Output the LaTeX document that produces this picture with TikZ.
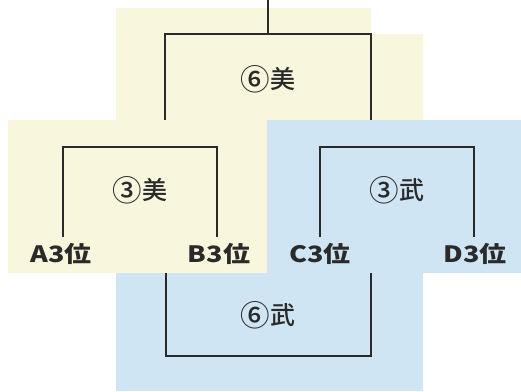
\documentclass[tikz,border=0pt]{standalone}
\usepackage{fontspec}
\newfontfamily\cjk{Noto Sans CJK JP Medium}
\newfontfamily\cjkb{Noto Sans CJK JP Black}
\definecolor{cream}{HTML}{F8F6DC}
\definecolor{skyb}{HTML}{D0E5F4}
\definecolor{ink}{HTML}{2A2A2A}
\newcommand{\cnum}[1]{\raisebox{-0.06em}{\scalebox{1.18}{#1}}}
\begin{document}
\begin{tikzpicture}[x=1pt,y=-1pt,
  line/.style={draw=ink,line width=2.3pt,line cap=butt,line join=miter},
  round/.style={font=\cjk\fontsize{25}{25}\selectfont,text=ink,inner sep=0pt},
  team/.style={font=\cjkb\fontsize{22.5}{22.5}\selectfont,text=ink,inner sep=0pt,xscale=1.2}]
\fill[white] (0,0) rectangle (521,391);
\useasboundingbox (0,0) rectangle (521,391);
\fill[cream] (116,8) -- (371,8) -- (371,34) -- (423,34) -- (423,120) -- (267,120) -- (267,273) -- (8,273) -- (8,120) -- (116,120) -- cycle;
\fill[skyb] (267,120) -- (521,120) -- (521,273) -- (423,273) -- (423,391) -- (116,391) -- (116,273) -- (267,273) -- cycle;
% labels
\node[round] (f6) at (268,79) {\cnum{⑥}美};
\node[round] (m3) at (140,190) {\cnum{③}美};
\node[round] (b3) at (397,190) {\cnum{③}武};
\node[round] (b6) at (268,315) {\cnum{⑥}武};
\node[team] (A) at (61,254) {A3位};
\node[team] (B) at (219,254) {B3位};
\node[team] (C) at (320,254) {C3位};
\node[team] (D) at (475,254) {D3位};
% joints
\coordinate (aT) at (63,237);
\coordinate (bT) at (217,237);
\coordinate (cT) at (320,237);
\coordinate (dT) at (474,237);
\coordinate (j1) at (140,147);
\coordinate (j2) at (397,147);
\coordinate (tL) at (165,120);
\coordinate (tR) at (371,120);
\coordinate (top) at (268,34);
\coordinate (stem) at (268,0);
\coordinate (uL) at (166,273);
\coordinate (uR) at (371,273);
\coordinate (bot) at (268,356);
% brackets
\draw[line] (aT) |- (j1) -| (bT);
\draw[line] (cT) |- (j2) -| (dT);
\draw[line] (tL) |- (top) -| (tR);
\draw[line] (top) -- (stem);
\draw[line] (uL) |- (bot) -| (uR);
\end{tikzpicture}
\end{document}
